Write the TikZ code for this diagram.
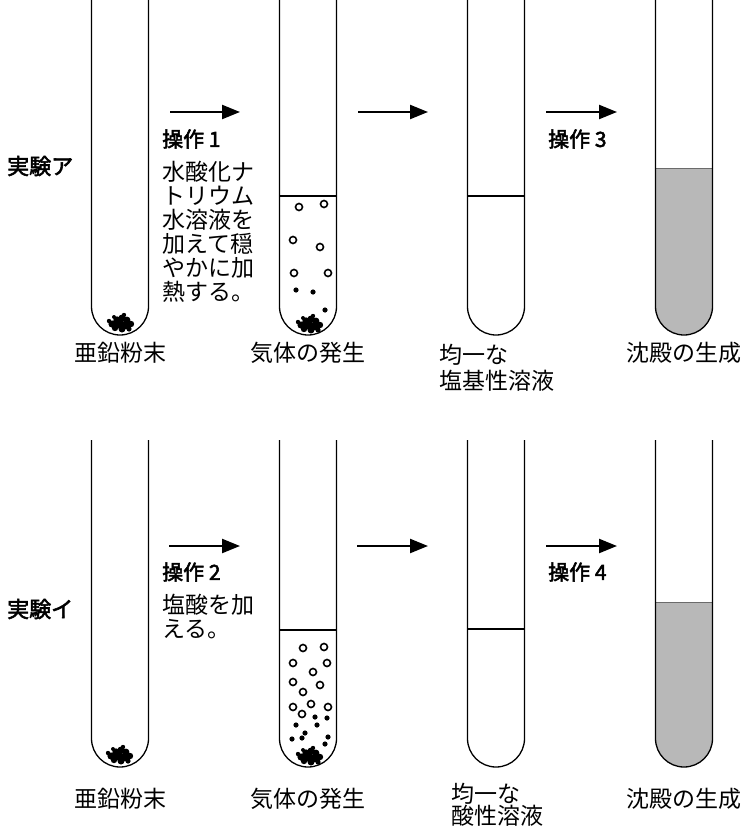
\documentclass[tikz,border=0pt]{standalone}
\usepackage{fontspec}
\setmainfont{Noto Sans CJK JP}
\newfontfamily\headfont{Noto Sans CJK JP}[FakeBold=2.5]
\usetikzlibrary{arrows.meta}
\definecolor{precip}{gray}{0.72}
\definecolor{precipedge}{gray}{0.42}

% test tube: centre x, top y, bottom y
\newcommand{\testtube}[3]{%
  \draw[tubewall] (#1-28.5,#2) -- (#1-28.5,#3-28.5)
    arc[start angle=180,end angle=0,radius=28.5] -- (#1+28.5,#2);}
% liquid surface line: centre x, level y
\newcommand{\surfline}[2]{\draw[surface] (#1-28.5,#2) -- (#1+28.5,#2);}
% precipitate filling the lower part: centre x, level y, bottom y
\newcommand{\precipfill}[3]{%
  \fill[precip] (#1-28.5,#2) -- (#1-28.5,#3-28.5)
    arc[start angle=180,end angle=0,radius=28.5] -- (#1+28.5,#2) -- cycle;
  \draw[precipedge,line width=1pt] (#1-28.5,#2) -- (#1+28.5,#2);}
% zinc powder heap at the tube bottom
\newcommand{\zincpile}[2]{%
  \begin{scope}[shift={(#1,#2)}]
    \fill (-9,1) circle[radius=3.6] (-4,-3) circle[radius=3.7]
          (1,-5) circle[radius=3.5] (6,-3) circle[radius=3.4]
          (10,1) circle[radius=3.2] (5,2) circle[radius=4.2]
          (-1,1) circle[radius=4.7] (-6,5) circle[radius=3.2]
          (1,6) circle[radius=3.5] (8,6) circle[radius=2.6]
          (-12,-2) circle[radius=2.2] (3,-8) circle[radius=2.2]
          (-7,-6) circle[radius=2];
  \end{scope}}

\begin{document}
\begin{tikzpicture}[x=1pt,y=-1pt,
  tubewall/.style={line width=1.3pt},
  surface/.style={line width=1.1pt},
  bubble/.style={line width=1.6pt},
  oparrow/.style={line width=2.3pt,-{Triangle[length=18pt,width=14pt]}},
  tubelabel/.style={font=\fontsize{23}{26}\selectfont,inner sep=0pt},
  opname/.style={font=\headfont\fontsize{21}{24}\selectfont,inner sep=0pt,anchor=west},
  optext/.style={font=\fontsize{23}{24}\selectfont,inner sep=0pt,anchor=north west,align=left},
  expname/.style={font=\headfont\fontsize{22}{24}\selectfont,inner sep=0pt,anchor=west}]
\useasboundingbox (0,0) rectangle (751,832);

% experiment A
\precipfill{684}{168}{335}
\foreach \tx in {120,308,496,684} {\testtube{\tx}{0}{335}}
\surfline{308}{196}
\surfline{496}{196}
\foreach \bx/\by in {299/207,324/204,293/240,320/247,294/273,328/273}
  \draw[bubble] (\bx,\by) circle[radius=3.5];
\foreach \bx/\by in {296/290,313/292,325/310}
  \fill (\bx,\by) circle[radius=2.6];
\zincpile{121}{323}
\zincpile{310}{324}

\coordinate (a1s) at (170,112); \coordinate (a1e) at (240,112);
\coordinate (a2s) at (358,112); \coordinate (a2e) at (428,112);
\coordinate (a3s) at (546,112); \coordinate (a3e) at (617,112);
\draw[oparrow] (a1s) -- (a1e);
\draw[oparrow] (a2s) -- (a2e);
\draw[oparrow] (a3s) -- (a3e);

\node[expname] (expA) at (7,166) {実験ア};
\node[opname] (opOne) at (162,139) {操作 1};
\node[optext] (opOneText) at (162,161) {水酸化ナ\\トリウム\\水溶液を\\加えて穏\\やかに加\\熱する。};
\node[opname] (opThree) at (548,139) {操作 3};

\node[tubelabel] (zincA) at (120,353) {亜鉛粉末};
\node[tubelabel] (gasA) at (308,353) {気体の発生};
\node[tubelabel,align=left,anchor=north] (baseSol) at (497,344) {均一な\\塩基性溶液};
\node[tubelabel] (ppA) at (684,353) {沈殿の生成};

% experiment B
\precipfill{684}{602}{767}
\foreach \tx in {120,308,496,684} {\testtube{\tx}{440}{767}}
\surfline{308}{630}
\surfline{496}{629}
\foreach \bx/\by in {303/648,324/647,293/663,327/663,313/672,293/682,320/685,
                     303/692,293/707,311/704,328/707,302/714}
  \draw[bubble] (\bx,\by) circle[radius=3.5];
\foreach \bx/\by in {315/717,327/718,296/725,317/725,305/733,292/739,302/738,328/737,325/744}
  \fill (\bx,\by) circle[radius=2.6];
\zincpile{120}{755}
\zincpile{310}{756}

\coordinate (b1s) at (169,546); \coordinate (b1e) at (240,546);
\coordinate (b2s) at (357,546); \coordinate (b2e) at (428,546);
\coordinate (b3s) at (546,546); \coordinate (b3e) at (617,546);
\draw[oparrow] (b1s) -- (b1e);
\draw[oparrow] (b2s) -- (b2e);
\draw[oparrow] (b3s) -- (b3e);

\node[expname] (expB) at (7,609) {実験イ};
\node[opname] (opTwo) at (162,572) {操作 2};
\node[optext] (opTwoText) at (162,594) {塩酸を加\\える。};
\node[opname] (opFour) at (548,572) {操作 4};

\node[tubelabel] (zincB) at (120,799) {亜鉛粉末};
\node[tubelabel] (gasB) at (308,799) {気体の発生};
\node[tubelabel,align=left,anchor=north,font=\fontsize{23}{22}\selectfont] (acidSol) at (497,783) {均一な\\酸性溶液};
\node[tubelabel] (ppB) at (684,799) {沈殿の生成};
\end{tikzpicture}
\end{document}
